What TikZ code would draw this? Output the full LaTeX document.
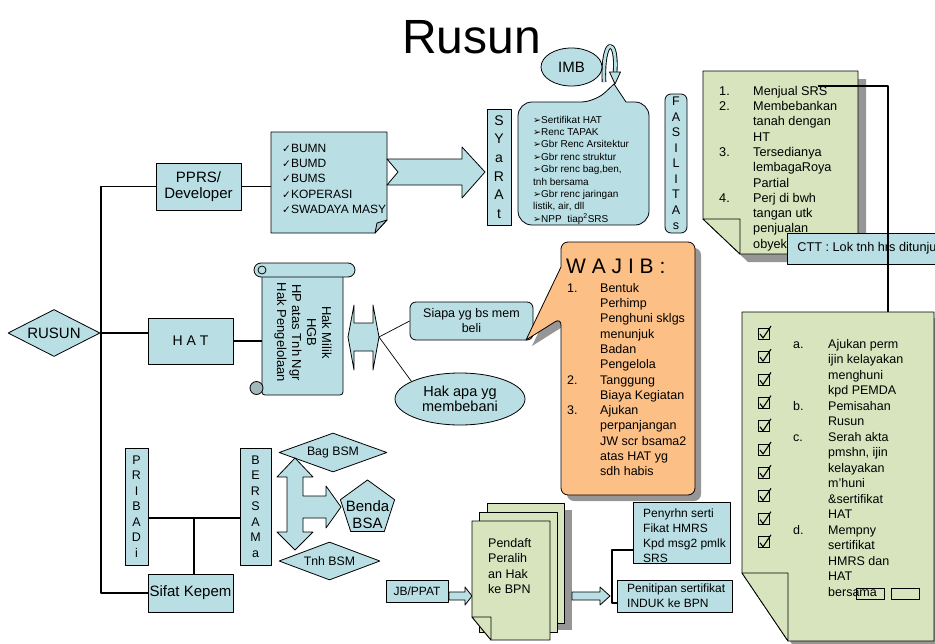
\documentclass[tikz,border=0pt]{standalone}
\usepackage{fontspec}
\setmainfont{Liberation Sans}
\newfontfamily\dejavu{DejaVu Sans}
\usetikzlibrary{shapes.geometric}
\definecolor{biru}{RGB}{185,223,228}
\definecolor{hijau}{RGB}{215,228,189}
\definecolor{oranye}{RGB}{252,191,133}
\definecolor{bayang}{RGB}{150,150,150}
\newcommand{\cek}{{\dejavu\fontsize{10.5}{10.5}\selectfont ✓}}
\newcommand{\tanda}{{\dejavu\fontsize{9.5}{9.5}\selectfont ➢}}
\begin{document}
\begin{tikzpicture}[x=1pt, y=-1pt, line join=round,
	kotak/.style={draw, fill=biru, line width=0.8pt, inner sep=0pt, align=center},
	teks/.style={inner sep=0pt, anchor=north west},
	jalur/.style={line width=1.8pt},
	tipis/.style={line width=0.7pt},
	bentuk/.style={draw, line width=0.8pt}]
	\useasboundingbox (0,0) rectangle (935,643);
	\clip (0,0) rectangle (935,643);
	
	% 标题
	\node[anchor=base, inner sep=0pt, font=\fontsize{48}{48}\selectfont] (judul) at (471.5,53) {Rusun};
	
	% 主干
	\node[kotak, diamond, aspect=2, minimum width=92pt, minimum height=47pt, font=\fontsize{15}{15}\selectfont] (rusun) at (54,333) {RUSUN};
	\node[kotak, minimum width=85pt, minimum height=47pt, font=\fontsize{15}{16}\selectfont] (pprs) at (198.5,186.5) {PPRS/\\Developer};
	\node[kotak, minimum width=85pt, minimum height=46pt, font=\fontsize{14}{14}\selectfont] (hat) at (190.5,341) {H A T};
	\node[kotak, minimum width=85pt, minimum height=38pt, font=\fontsize{15}{15}\selectfont] (sifat) at (190.5,593) {Sifat Kepem};
	\coordinate (spine) at (101,333);
	\draw[jalur] (pprs.west) -- (pprs.west -| spine) -- (sifat.west -| spine) -- (sifat.west);
	\draw[jalur] (rusun.east) -- (rusun.east -| hat.west);
	
	% BUMN 与 SYARAT
	\draw[bentuk, fill=biru] (271,132) -- (387,132) -- (387,220) -- (375,233) -- (271,233) -- cycle;
	\draw[bentuk, fill=biru!75!gray] (387,220) -- (377,223) -- (375,233) -- cycle;
	\node[teks, inner xsep=11pt, font=\fontsize{12}{15.3}\selectfont] (bumn) at (271,141.3)
		{\begin{tabular}{@{}l@{}}\cek BUMN\\\cek BUMD\\\cek BUMS\\\cek KOPERASI\\\cek SWADAYA MASY\end{tabular}};
	\draw[jalur] (pprs.east) -- (pprs.east -| bumn.west);
	\draw[bentuk, fill=biru] (387,159) -- (462,159) -- (462,147) -- (485,172) -- (462,198) -- (462,185) -- (387,185) -- (398,172) -- cycle;
	\node[kotak, minimum width=24pt, minimum height=116pt, font=\fontsize{14}{18.6}\selectfont] (syarat) at (499,167) {S\\Y\\a\\R\\A\\t};
	\draw[bentuk, fill=biru] (626,102) [rounded corners=14pt] -- (649,102) -- (649,225) -- (518,225) -- (518,102) -- (595,102) [sharp corners] -- (614,84) -- cycle;
	\node[teks, font=\fontsize{10}{12.4}\selectfont] (syaratlist) at (533,114.3)
		{\begin{tabular}{@{}l@{}}\tanda Sertifikat HAT\\\tanda Renc TAPAK\\\tanda Gbr Renc Arsitektur\\\tanda Gbr renc struktur\\\tanda Gbr renc bag,ben,\\tnh bersama\\\tanda Gbr renc jaringan\\listik, air, dll\\\tanda NPP~~tiap\textsuperscript{2}SRS\end{tabular}};
	\draw[line width=4.6pt] (604,82) .. controls (602,36) and (618,36) .. (615,73);
	\draw[line width=2.8pt, biru] (604,82) .. controls (602,36) and (618,36) .. (615,73);
	\draw[bentuk, fill=biru] (609.5,72) -- (620.5,72) -- (615,84) -- cycle;
	\node[kotak, ellipse, minimum width=61pt, minimum height=38pt, font=\fontsize{15}{15}\selectfont] (imb) at (571.5,67) {IMB};
	\node[kotak, rounded corners=6pt, minimum width=22pt, minimum height=139pt, font=\fontsize{12.5}{15.5}\selectfont] (fasilitas) at (676,163.5) {F\\A\\S\\I\\L\\I\\T\\A\\s};
	
	% 绿色便笺 1
	\fill[bayang, shift={(8,8)}] (703,71) -- (858,71) -- (858,254) -- (740,254) -- (703,219) -- cycle;
	\draw[bentuk, fill=hijau] (703,71) -- (858,71) -- (858,254) -- (740,254) -- (703,219) -- cycle;
	\draw[bentuk, fill=hijau] (703,219) -- (740,219) -- (740,254) -- cycle;
	\node[teks, font=\fontsize{12.7}{15.3}\selectfont] (fasilitaslist) at (719,84.3)
		{\begin{tabular}{@{}p{34pt}@{}l@{}}1. & Menjual SRS\\2. & Membebankan\\ & tanah dengan\\ & HT\\3. & Tersedianya\\ & lembagaRoya\\ & Partial\\4. & Perj di bwh\\ & tangan utk\\ & penjualan\\ & obyek\end{tabular}};
	\node[kotak, anchor=west, minimum height=31pt, inner xsep=10pt, font=\fontsize{12.7}{12.7}\selectfont] (ctt) at (787,248.5) {CTT : Lok tnh hrs ditunju};
	
	% 绿色便笺 2
	\fill[bayang, shift={(6,6)}] (742,312) -- (934,312) -- (934,641) -- (788,641) -- (742,573) -- cycle;
	\draw[bentuk, fill=hijau] (742,312) -- (934,312) -- (934,641) -- (788,641) -- (742,573) -- cycle;
	\draw[bentuk, fill=hijau] (742,573) -- (788,573) -- (788,641) -- cycle;
	\foreach \k in {0,...,9} {
		\draw[line width=0.7pt] (758,{328+23.2*\k}) rectangle ++(11,11);
		\draw[line width=1.1pt] (760,{334+23.2*\k}) -- ++(3,4) -- ++(8,-12);
	}
	\node[teks, font=\fontsize{12.5}{15.5}\selectfont] (wajib2list) at (793,337.2)
		{\begin{tabular}{@{}p{35pt}@{}l@{}}a. & Ajukan perm\\ & ijin kelayakan\\ & menghuni\\ & kpd PEMDA\\b. & Pemisahan\\ & Rusun\\c. & Serah akta\\ & pmshn, ijin\\ & kelayakan\\ & m’huni\\ & \&sertifikat\\ & HAT\\d. & Mempny\\ & sertifikat\\ & HMRS dan\\ & HAT\\ & bersama\end{tabular}};
	\draw[line width=0.8pt] (856,588) rectangle (884,599);
	\draw[line width=0.8pt] (891,588) rectangle (919,599);
	\coordinate (srs) at (818,86);
	\coordinate (belok) at (888,86);
	\coordinate (note2top) at (888,312);
	\draw[line width=1.5pt] (srs) -- (belok) -- (note2top);
	
	% HAT 分支
	\draw[bentuk, fill=biru, rounded corners=3pt] (262,268) rectangle (343,395);
	\draw[bentuk, fill=biru, rounded corners=7pt] (254,263) rectangle (355,277);
	\draw[line width=0.8pt] (262,270) circle (4);
	\draw[bentuk, fill=biru!60!gray] (256.5,388) circle (6.5);
	\node[inner sep=0pt, minimum width=81pt, minimum height=125pt, font=\fontsize{13}{15}\selectfont] (scroll) at (302.5,332.5)
		{\rotatebox{-90}{\begin{tabular}{@{}c@{}}Hak Milik\\HGB\\HP atas Tnh Ngr\\Hak Pengelolaan\end{tabular}}};
	\draw[jalur] (hat.east) -- (hat.east -| scroll.west);
	\draw[bentuk, fill=biru] (348,337) -- (354,305) -- (354,323) -- (373,323) -- (373,305) -- (379,337) -- (373,370) -- (373,351) -- (354,351) -- (354,370) -- cycle;
	\node[kotak, rounded corners=6pt, minimum width=123pt, minimum height=38pt, font=\fontsize{12.5}{15}\selectfont] (siapa) at (471.5,321) {Siapa yg bs mem\\beli};
	\node[kotak, ellipse, minimum width=130pt, minimum height=52pt, font=\fontsize{14.5}{15.5}\selectfont] (hakapa) at (460,399) {Hak apa yg\\membebani};
	\coordinate (dbl) at (379,337);
	\draw[tipis] (dbl) -- (siapa.west);
	\draw[tipis] (dbl) -- (hakapa.160);
	
	% WAJIB
	\fill[bayang, shift={(6,6)}] (561,267) [rounded corners=7pt] -- (561,242) -- (695,242) -- (695,495) -- (561,495) -- (561,318) [sharp corners] -- (526,340) -- cycle;
	\draw[bentuk, fill=oranye] (561,267) [rounded corners=7pt] -- (561,242) -- (695,242) -- (695,495) -- (561,495) -- (561,318) [sharp corners] -- (526,340) -- cycle;
	\node[anchor=base west, inner sep=0pt, font=\fontsize{21}{21}\selectfont] (wajib) at (566,273) {W A J I B :};
	\node[teks, font=\fontsize{12.5}{15.3}\selectfont] (wajiblist) at (567,281.3)
		{\begin{tabular}{@{}p{33pt}@{}l@{}}1. & Bentuk\\ & Perhimp\\ & Penghuni sklgs\\ & menunjuk\\ & Badan\\ & Pengelola\\2. & Tanggung\\ & Biaya Kegiatan\\3. & Ajukan\\ & perpanjangan\\ & JW scr bsama2\\ & atas HAT yg\\ & sdh habis\end{tabular}};
	
	% 所有权性质
	\node[kotak, minimum width=23pt, minimum height=117pt, font=\fontsize{12.5}{15.5}\selectfont] (pribadi) at (136.5,506.5) {P\\R\\I\\B\\A\\D\\i};
	\node[kotak, minimum width=31pt, minimum height=117pt, font=\fontsize{12.5}{15.5}\selectfont] (bersama) at (255.5,506.5) {B\\E\\R\\S\\A\\M\\a};
	\coordinate (pb) at ([yshift=-11.5pt]pribadi.east);
	\draw[jalur] (pb) -- (pb -| bersama.west);
	\draw[jalur] ([xshift=3.5pt]sifat.north) -- ([xshift=3.5pt]sifat.north |- pb);
	\node[kotak, diamond, aspect=2.77, minimum width=108pt, minimum height=39pt, font=\fontsize{12.3}{12.3}\selectfont] (bagbsm) at (333,452.5) {Bag BSM};
	\node[kotak, diamond, aspect=2.66, minimum width=101pt, minimum height=38pt, font=\fontsize{12.3}{12.3}\selectfont] (tnhbsm) at (329.5,561) {Tnh BSM};
	\node[kotak, regular polygon, regular polygon sides=5, minimum size=57pt] (benda) at (367.5,508.5) {};
	\node[inner sep=0pt, align=center, font=\fontsize{15}{17}\selectfont] (bendateks) at (367.5,515) {Benda\\BSA};
	\draw[bentuk, fill=biru] (295,458) -- (313,477) -- (303,477) -- (303,496) -- (326,496) -- (326,486) -- (341,507) -- (326,528) -- (326,518) -- (303,518) -- (303,532) -- (313,532) -- (295,550) -- (277,532) -- (287,532) -- (287,477) -- (277,477) -- cycle;
	
	% 登记流程
	\node[kotak, minimum width=62pt, minimum height=22pt, font=\fontsize{12}{12}\selectfont] (jb) at (417,591) {JB/PPAT};
	\draw[bentuk, fill=biru] (449,592) -- (465,592) -- (465,587) -- (472,596) -- (465,605) -- (465,600) -- (449,600) -- cycle;
	\fill[bayang] (495,510) rectangle (572,630);
	\draw[bentuk, fill=hijau] (487,503) rectangle (564,623);
	\draw[bentuk, fill=hijau] (479,512) rectangle (557,632);
	\draw[bentuk, fill=hijau] (472,521) -- (550,521) -- (550,640) -- (491,640) -- (472,617) -- cycle;
	\draw[bentuk, fill=hijau] (472,617) -- (491,617) -- (491,640) -- cycle;
	\node[teks, font=\fontsize{12.5}{15.5}\selectfont] (pendaft) at (488,536.2)
		{\begin{tabular}{@{}l@{}}Pendaft\\Peralih\\an Hak\\ke BPN\end{tabular}};
	\draw[bentuk, fill=biru] (572,592) -- (600,592) -- (600,587) -- (610,596) -- (600,605) -- (600,600) -- (572,600) -- cycle;
	\node[kotak, minimum width=97pt, minimum height=61pt] (penyrhn) at (681.5,532.5) {};
	\node[teks, font=\fontsize{12}{15}\selectfont] (penyrhnteks) at (643,506.5)
		{\begin{tabular}{@{}l@{}}Penyrhn serti\\Fikat HMRS\\Kpd msg2 pmlk\\SRS\end{tabular}};
	\node[kotak, minimum width=115pt, minimum height=32pt] (penitipan) at (674.5,596) {};
	\node[teks, font=\fontsize{12}{15}\selectfont] (penitipanteks) at (627,581.5)
		{\begin{tabular}{@{}l@{}}Penitipan sertifikat\\INDUK ke BPN\end{tabular}};
	\draw[jalur] ([yshift=-17.5pt]penyrhn.west) -- ++(-21,0) |- ([yshift=-7pt]penitipan.west);
\end{tikzpicture}
\end{document}
